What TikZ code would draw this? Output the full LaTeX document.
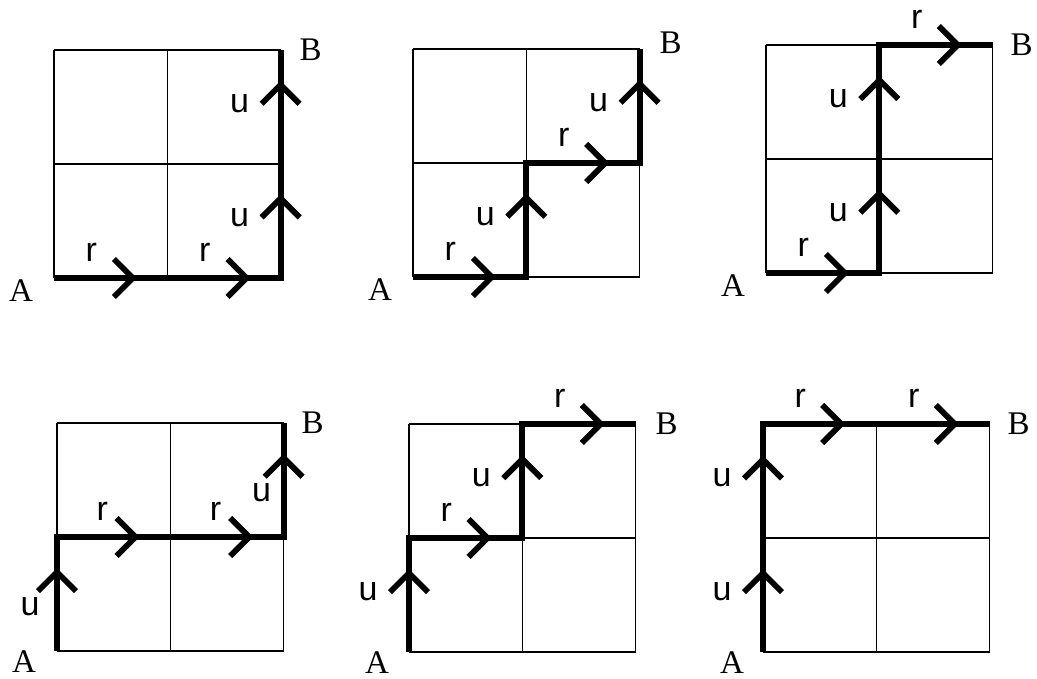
\documentclass[tikz,border=0pt]{standalone}
\usepackage{fontspec}
\setmainfont{Liberation Serif}
\setsansfont{Liberation Sans}
\usetikzlibrary{arrows.meta, decorations.markings}

\tikzset{
	gridline/.style={line width=1.5pt},
	walk/.style={line width=5.8pt, line join=miter, postaction={decorate},
		decoration={markings,
			mark=at position 0.1825 with {\arrow{Straight Barb[length=19pt,width=38pt,line width=5.8pt]}},
			mark=at position 0.4325 with {\arrow{Straight Barb[length=19pt,width=38pt,line width=5.8pt]}},
			mark=at position 0.6825 with {\arrow{Straight Barb[length=19pt,width=38pt,line width=5.8pt]}},
			mark=at position 0.9325 with {\arrow{Straight Barb[length=19pt,width=38pt,line width=5.8pt]}}}},
	rlab/.style={pos=0.33, yshift=26pt, inner sep=0pt, font=\sffamily\fontsize{34}{36}\selectfont},
	ulab/.style={pos=0.53, xshift=-41pt, inner sep=0pt, font=\sffamily\fontsize{34}{36}\selectfont},
	corner/.style={inner sep=0pt, font=\fontsize{33}{36}\selectfont}
}

\begin{document}
\begin{tikzpicture}[x=1pt,y=1pt]
	\useasboundingbox (0,0) rectangle (1037,679);

	% r r u u
	\begin{scope}[shift={(54pt,401pt)}, x=113.3pt, y=114pt]
		\draw[gridline] (0,0) grid[step=1] (2,2);
		\draw[walk] (0,0) -- node[rlab] (s11) {r} (1,0) -- node[rlab] (s12) {r} (2,0)
			-- node[ulab] (s13) {u} (2,1) -- node[ulab] (s14) {u} (2,2);
		\node[corner, xshift=-33pt, yshift=-13pt] (A1) at (0,0) {A};
		\node[corner, xshift=30pt] (B1) at (2,2) {B};
	\end{scope}

	% r u r u
	\begin{scope}[shift={(413pt,402pt)}, x=113.3pt, y=114pt]
		\draw[gridline] (0,0) grid[step=1] (2,2);
		\draw[walk] (0,0) -- node[rlab] (s21) {r} (1,0) -- node[ulab] (s22) {u} (1,1)
			-- node[rlab] (s23) {r} (2,1) -- node[ulab] (s24) {u} (2,2);
		\node[corner, xshift=-33pt, yshift=-13pt] (A2) at (0,0) {A};
		\node[corner, xshift=31pt, yshift=6pt] (B2) at (2,2) {B};
	\end{scope}

	% r u u r
	\begin{scope}[shift={(766pt,406pt)}, x=113.3pt, y=114pt]
		\draw[gridline] (0,0) grid[step=1] (2,2);
		\draw[walk] (0,0) -- node[rlab] (s31) {r} (1,0) -- node[ulab] (s32) {u} (1,1)
			-- node[ulab] (s33) {u} (1,2) -- node[rlab] (s34) {r} (2,2);
		\node[corner, xshift=-33pt, yshift=-13pt] (A3) at (0,0) {A};
		\node[corner, xshift=29pt] (B3) at (2,2) {B};
	\end{scope}

	% u r r u
	\begin{scope}[shift={(57pt,28pt)}, x=113.3pt, y=114pt]
		\draw[gridline] (0,0) grid[step=1] (2,2);
		\draw[walk] (0,0) -- node[ulab, pos=0.39, xshift=14pt] (s41) {u} (0,1)
			-- node[rlab, pos=0.4] (s42) {r} (1,1) -- node[rlab, pos=0.4] (s43) {r} (2,1)
			-- node[ulab, pos=0.39, xshift=19pt] (s44) {u} (2,2);
		\node[corner, xshift=-33pt, yshift=-11pt] (A4) at (0,0) {A};
		\node[corner, xshift=29pt] (B4) at (2,2) {B};
	\end{scope}

	% u r u r
	\begin{scope}[shift={(409pt,27pt)}, x=113.3pt, y=114pt]
		\draw[gridline] (0,0) grid[step=1] (2,2);
		\draw[walk] (0,0) -- node[ulab] (s51) {u} (0,1) -- node[rlab] (s52) {r} (1,1)
			-- node[ulab] (s53) {u} (1,2) -- node[rlab] (s54) {r} (2,2);
		\node[corner, xshift=-32pt, yshift=-11pt] (A5) at (0,0) {A};
		\node[corner, xshift=31pt] (B5) at (2,2) {B};
	\end{scope}

	% u u r r
	\begin{scope}[shift={(763pt,27pt)}, x=113.3pt, y=114pt]
		\draw[gridline] (0,0) grid[step=1] (2,2);
		\draw[walk] (0,0) -- node[ulab] (s61) {u} (0,1) -- node[ulab] (s62) {u} (0,2)
			-- node[rlab] (s63) {r} (1,2) -- node[rlab] (s64) {r} (2,2);
		\node[corner, xshift=-31pt, yshift=-11pt] (A6) at (0,0) {A};
		\node[corner, xshift=29pt] (B6) at (2,2) {B};
	\end{scope}
\end{tikzpicture}
\end{document}
